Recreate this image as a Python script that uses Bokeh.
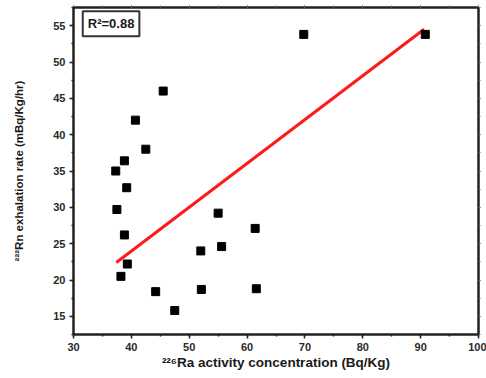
from bokeh.plotting import figure
from bokeh.models import LinearAxis, SingleIntervalTicker, Range1d, Label, CustomJSTickFormatter
from bokeh.embed import file_html
from bokeh.resources import INLINE

ra_activity = [69.8, 90.8, 45.5, 40.7, 42.5, 38.8, 37.3, 39.2, 37.5, 55.0,
               61.4, 38.8, 55.6, 52.0, 39.3, 38.2, 61.6, 52.1, 44.2, 47.5]
rn_exhalation = [53.8, 53.8, 46.0, 42.0, 38.0, 36.4, 35.0, 32.7, 29.7, 29.2,
                 27.1, 26.2, 24.6, 24.0, 22.2, 20.5, 18.8, 18.7, 18.4, 15.8]
fit_x = [37.4, 90.6]
fit_y = [22.4, 54.5]
r2_text = "R\u00b2=0.88"
x_title = "\u00b2\u00b2\u2076Ra activity concentration (Bq/Kg)"
y_title = "\u00b2\u00b2\u00b2Rn exhalation rate (mBq/Kg/hr)"

FONT = "Liberation Sans"

p = figure(width=486, height=378, output_backend="svg", toolbar_location=None,
           x_range=Range1d(30, 100), y_range=Range1d(12.5, 57.5),
           min_border_left=73, min_border_right=8, min_border_top=7, min_border_bottom=44,
           background_fill_color="white", border_fill_color="white")
p.grid.visible = False
p.outline_line_color = "#222222"
p.outline_line_width = 2

p.line(fit_x, fit_y, line_color="#ff1a1a", line_width=3)
p.scatter(ra_activity, rn_exhalation, marker="square", size=8,
          fill_color="black", line_color="black")

def style(ax):
    ax.axis_line_color = "#222222"
    ax.axis_line_width = 2
    ax.major_tick_line_color = "#222222"
    ax.minor_tick_line_color = "#222222"
    ax.major_tick_line_width = 1.5
    ax.minor_tick_line_width = 1.5
    ax.major_label_text_font = FONT
    ax.major_label_text_font_style = "bold"
    ax.major_label_text_font_size = "11px"
    ax.major_label_text_color = "#2a2a2a"
    ax.axis_label_text_font = FONT
    ax.axis_label_text_font_style = "bold"
    ax.axis_label_text_color = "#1a1a1a"

xa = p.xaxis[0]
xa.ticker = SingleIntervalTicker(interval=10, num_minor_ticks=2)
xa.axis_label = x_title
style(xa)
xa.axis_label_text_font_size = "13.5px"
xa.major_tick_out = 4
xa.major_tick_in = 0
xa.minor_tick_out = 2
xa.minor_tick_in = 0
xa.major_label_standoff = 4
xa.axis_label_standoff = 1

ya = p.yaxis[0]
ya.ticker = SingleIntervalTicker(interval=5, num_minor_ticks=2)
ya.axis_label = y_title
style(ya)
ya.axis_label_text_font_size = "11.5px"
ya.major_tick_out = 4
ya.major_tick_in = 0
ya.minor_tick_out = 2
ya.minor_tick_in = 0
ya.major_label_standoff = 4
ya.axis_label_standoff = 25

blank = CustomJSTickFormatter(code="return ''")
for side, ticker in (("right", SingleIntervalTicker(interval=5, num_minor_ticks=2)),
                     ("above", SingleIntervalTicker(interval=10, num_minor_ticks=2))):
    ax = LinearAxis(ticker=ticker, formatter=blank)
    style(ax)
    ax.major_label_standoff = 0
    ax.major_tick_in = 0
    ax.major_tick_out = 2
    ax.minor_tick_in = 0
    ax.minor_tick_out = 2
    ax.major_tick_line_width = 1
    ax.minor_tick_line_width = 1
    ax.major_tick_line_color = "#666666"
    ax.minor_tick_line_color = "#666666"
    p.add_layout(ax, side)

lbl = Label(x=31.6, y=57.0, text=r2_text, text_font=FONT, text_font_style="bold",
            text_font_size="13px", text_color="#1a1a1a", text_align="left",
            text_baseline="top", padding=5, border_line_color="#333333",
            border_line_width=2, background_fill_color="white")
p.add_layout(lbl)

open("out.html", "w").write(file_html(p, INLINE))
